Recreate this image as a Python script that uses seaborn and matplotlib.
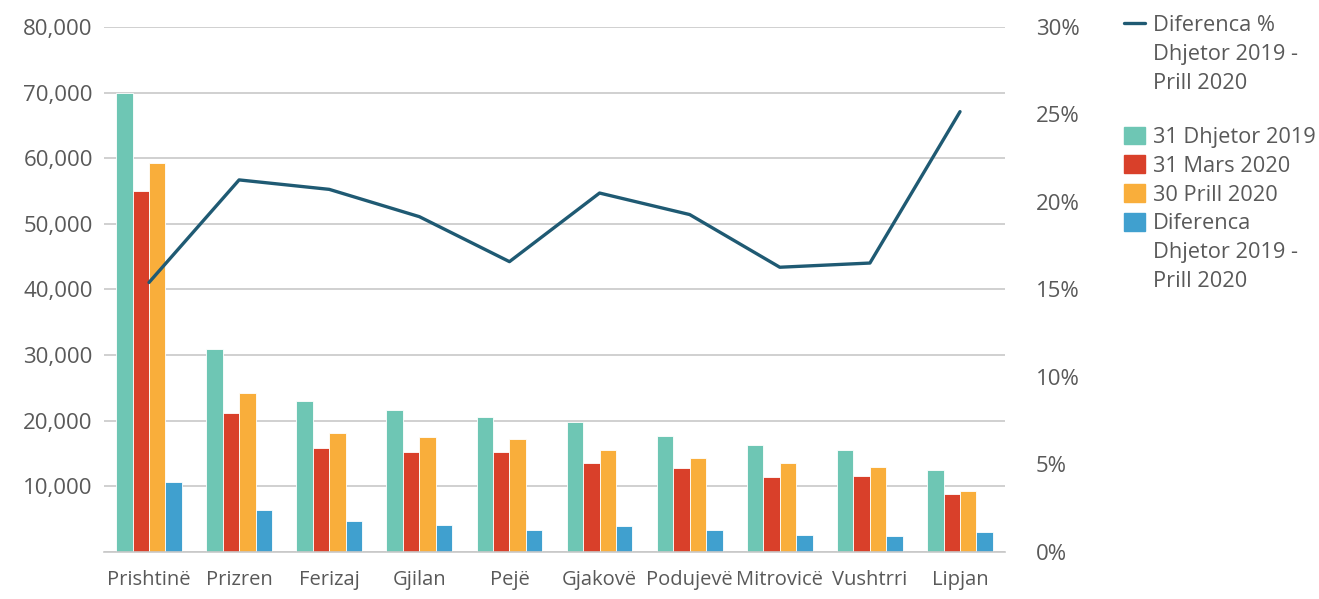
import matplotlib
matplotlib.use("Agg")
import matplotlib.pyplot as plt
from matplotlib.lines import Line2D
from matplotlib.patches import Patch
from matplotlib.ticker import FuncFormatter
import numpy as np
import pandas as pd
import seaborn as sns

cities = ["Prishtinë", "Prizren", "Ferizaj", "Gjilan", "Pejë", "Gjakovë",
          "Podujevë", "Mitrovicë", "Vushtrri", "Lipjan"]
dec_2019 = [70000, 30900, 22960, 21600, 20600, 19800, 17700, 16250, 15500, 12500]
mar_2020 = [55000, 21200, 15900, 15200, 15300, 13600, 12750, 11400, 11600, 8840]
apr_2020 = [59200, 24300, 18200, 17500, 17200, 15600, 14300, 13600, 12900, 9300]
diff_abs = [10700, 6450, 4670, 4060, 3350, 3960, 3300, 2600, 2440, 3050]
diff_pct = [15.4, 21.26, 20.72, 19.16, 16.59, 20.51, 19.28, 16.27, 16.51, 25.16]

series_names = ["31 Dhjetor 2019", "31 Mars 2020", "30 Prill 2020",
                "Diferenca\nDhjetor 2019 -\nPrill 2020"]
colors = ["#6EC6B4", "#D9402A", "#F9AE3B", "#40A0CF"]
line_color = "#1F5A73"
text_color = "#595959"
grid_color = "#C8C8C8"

sns.set_style("white")
plt.rcParams["font.family"] = ["Open Sans", "DejaVu Sans"]

df = pd.DataFrame({"city": cities * 4,
                   "series": np.repeat(series_names, len(cities)),
                   "value": dec_2019 + mar_2020 + apr_2020 + diff_abs})

fig = plt.figure(figsize=(13.19, 5.99), dpi=100)
ax = fig.add_axes([0.0788, 0.0785, 0.6832, 0.8765])

sns.barplot(data=df, x="city", y="value", hue="series", palette=colors,
            saturation=1, width=0.73, edgecolor="white", linewidth=0.6,
            ax=ax, legend=False)

ax.set_ylim(0, 80000)
ax.set_xlim(-0.5, len(cities) - 0.5)
ax.set_yticks(np.arange(0, 80001, 10000))
ax.yaxis.set_major_formatter(FuncFormatter(lambda v, p: "" if v == 0 else f"{int(v):,}"))
ax.grid(axis="y", color=grid_color, linewidth=1.2)
ax.set_axisbelow(True)
for s in ["top", "right", "left"]:
    ax.spines[s].set_visible(False)
ax.spines["bottom"].set_color(grid_color)
ax.spines["bottom"].set_linewidth(1.2)
ax.set_xlabel("")
ax.set_ylabel("")
ax.tick_params(axis="y", length=0, pad=8, labelsize=16, labelcolor=text_color)
ax.tick_params(axis="x", length=0, pad=13, labelsize=14.5, labelcolor=text_color)

ax2 = ax.twinx()
sns.lineplot(x=np.arange(len(cities)), y=diff_pct, color=line_color,
             linewidth=2.4, ax=ax2)
ax2.set_ylim(0, 30)
ax2.set_yticks(np.arange(0, 31, 5))
ax2.yaxis.set_major_formatter(FuncFormatter(lambda v, p: f"{int(v)}%"))
ax2.tick_params(axis="y", length=0, pad=22, labelsize=16, labelcolor=text_color)
for s in ax2.spines.values():
    s.set_visible(False)
ax2.set_ylabel("")

blank = Line2D([], [], color="none")
handles = [Line2D([], [], color=line_color, linewidth=2.4), blank, blank, blank,
           Patch(color=colors[0]), Patch(color=colors[1]), Patch(color=colors[2]),
           Patch(color=colors[3]), blank, blank]
labels = ["Diferenca %", "Dhjetor 2019 -", "Prill 2020", " ",
          "31 Dhjetor 2019", "31 Mars 2020", "30 Prill 2020",
          "Diferenca", "Dhjetor 2019 -", "Prill 2020"]
leg = fig.legend(handles, labels, loc="upper left", bbox_to_anchor=(0.842, 0.997),
                 frameon=False, fontsize=15.7, labelcolor=text_color,
                 handlelength=1.0, handleheight=0.85, handletextpad=0.35,
                 labelspacing=0.35, borderaxespad=0.2)
leg.get_texts()[3].set_fontsize(4)

fig.savefig("out.png", dpi=100)
